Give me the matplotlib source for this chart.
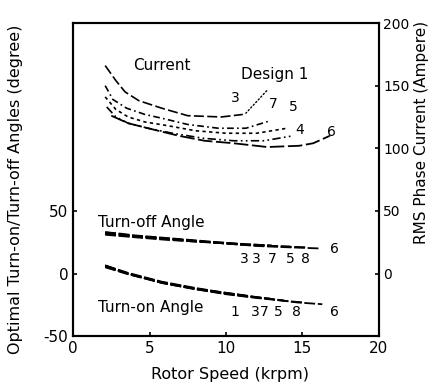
import numpy as np
import matplotlib.pyplot as plt

plt.rcParams['axes.unicode_minus'] = False

# Rotor speed (krpm) and RMS phase current (A) for each design
cur_x_3 = [2.1, 2.8, 3.4, 4.3, 5.8, 7.5, 9.7, 11.1]
cur_y_3 = [166, 154, 145, 138, 132, 126, 125, 127]
cur_x_7 = [2.1, 2.6, 3.5, 4.7, 5.8, 7.5, 9.5, 11.3, 12.9]
cur_y_7 = [150, 139, 132, 127, 124, 119, 116, 116, 122]
cur_x_5 = [2.1, 2.8, 3.6, 4.7, 6.2, 8.0, 10.0, 12.0, 14.0]
cur_y_5 = [141, 131, 125, 121, 118, 114, 112, 112, 116]
cur_x_4 = [2.2, 2.8, 3.6, 4.9, 6.5, 8.5, 10.5, 12.5, 14.4]
cur_y_4 = [133, 125, 120, 116, 112, 108, 106, 106, 110]
cur_x_6 = [2.5, 3.6, 4.9, 6.9, 8.6, 10.5, 12.7, 14.8, 15.7, 16.8]
cur_y_6 = [126, 120, 116, 110, 106, 104, 101, 102, 104, 110]

# Turn-off angles (deg)
off_x_1 = [2.1, 3, 4, 5, 6, 7, 8, 9, 10, 11.2]
off_y_1 = [33, 32, 30.5, 29.5, 28.5, 27.5, 26.5, 25.5, 24.5, 23.5]
off_x_3 = [2.1, 3, 4, 5, 6, 7, 8, 9, 10, 11, 12]
off_y_3 = [32, 31, 30, 29, 28, 27, 26, 25, 24, 23, 22.5]
off_x_7 = [2.1, 3, 4, 5, 6, 7, 8, 9, 10, 11, 12, 13]
off_y_7 = [32.5, 31.5, 30, 29, 28, 27, 26, 25, 24.5, 23.5, 23, 22.5]
off_x_5 = [2.1, 3, 4, 5, 6, 7, 8, 9, 10, 11, 12, 13, 14.2]
off_y_5 = [31.5, 30.5, 29.5, 28.5, 27.5, 26.5, 25.5, 25, 24, 23.5, 23, 22, 21.5]
off_x_8 = [2.1, 4, 6, 8, 10, 12, 13, 14, 15.2]
off_y_8 = [31, 29, 27, 25.5, 24, 22.5, 22, 21.5, 21]
off_x_6 = [2.1, 4, 6, 8, 10, 12, 14, 16.2]
off_y_6 = [33, 30, 28, 26, 24, 22, 21, 20]

# Turn-on angles (deg)
on_x_1 = [2.1, 2.8, 3.6, 4.5, 5.8, 7, 8, 9.5, 11.2]
on_y_1 = [6.4, 3, 0, -3, -7, -10, -12, -15, -17.5]
on_x_3 = [2.1, 3.6, 5.8, 8, 10, 11.5, 12.3]
on_y_3 = [6, 0, -7.5, -12.5, -16, -18.5, -19.5]
on_x_7 = [2.1, 3.6, 5.8, 8, 10, 12, 12.9]
on_y_7 = [5.5, -0.5, -7, -12, -16, -19, -20]
on_x_5 = [2.1, 3.6, 5.8, 8, 10, 12, 13.8]
on_y_5 = [6.5, 0.5, -6.5, -11.5, -15.5, -19, -21.5]
on_x_8 = [2.1, 3.6, 5.8, 8, 10, 12, 14, 15.0]
on_y_8 = [5, -0.5, -7.5, -12.5, -16.5, -19.5, -22, -23]
on_x_6 = [2.1, 3.6, 5.8, 8, 11, 12.7, 14.6, 16.3]
on_y_6 = [6.4, 0, -7, -12, -17, -20, -23, -24.5]

fig = plt.figure(figsize=(4.35, 3.9), dpi=100)
ax = fig.add_axes([0.168, 0.138, 0.703, 0.803])
ax2 = ax.twinx()

# current curves on the right-hand scale
ax2.plot(cur_x_3, cur_y_3, color='black', lw=1.2, ls=(0, (6, 2)))
ax2.plot(cur_x_7, cur_y_7, color='black', lw=1.2, ls=(0, (4, 2, 1, 2)))
ax2.plot(cur_x_5, cur_y_5, color='black', lw=1.2, ls=(0, (2, 2)))
ax2.plot(cur_x_4, cur_y_4, color='black', lw=1.2, ls=(0, (5, 2, 1, 2, 1, 2)))
ax2.plot(cur_x_6, cur_y_6, color='black', lw=1.3, ls=(0, (8, 2)))

for xs, ys in [(off_x_1, off_y_1), (off_x_3, off_y_3), (off_x_7, off_y_7),
               (off_x_5, off_y_5), (off_x_8, off_y_8), (off_x_6, off_y_6),
               (on_x_1, on_y_1), (on_x_3, on_y_3), (on_x_7, on_y_7),
               (on_x_5, on_y_5), (on_x_8, on_y_8), (on_x_6, on_y_6)]:
    ax.plot(xs, ys, color='black', lw=1.3, ls=(0, (6, 1.5)))

# curve tags
fs = 10
ax2.text(10.6, 137, '3', fontsize=fs, ha='center')
ax2.text(13.1, 132, '7', fontsize=fs, ha='center')
ax2.text(14.4, 130, '5', fontsize=fs, ha='center')
ax2.text(14.8, 111, '4', fontsize=fs, ha='center')
ax2.text(16.9, 110, '6', fontsize=fs, ha='center')
ax2.text(3.9, 166, 'Current', fontsize=11, va='center')
ax2.annotate('Design 1', xy=(11.3, 128), xytext=(11.0, 159), fontsize=11, va='center',
             arrowprops=dict(arrowstyle='-', ls=':', color='black', lw=1,
                             shrinkA=6, shrinkB=0, relpos=(0.5, 0)))

ax.text(1.6, 41, 'Turn-off Angle', fontsize=11, va='center')
for lx, lt in zip([11.2, 12.0, 13.0, 14.2, 15.2], ['3', '3', '7', '5', '8']):
    ax.text(lx, 12, lt, fontsize=fs, ha='center', va='center')
ax.text(16.8, 19.5, '6', fontsize=fs, ha='left', va='center')

ax.text(1.6, -27.5, 'Turn-on Angle', fontsize=11, va='center')
for lx, lt in zip([10.6, 11.9, 12.5, 13.4, 14.6], ['1', '3', '7', '5', '8']):
    ax.text(lx, -31, lt, fontsize=fs, ha='center', va='center')
ax.text(16.8, -31, '6', fontsize=fs, ha='left', va='center')

ax.set_xlim(0, 20)
ax.set_ylim(-50, 200)
ax2.set_ylim(-50, 200)
ax.set_xticks([0, 5, 10, 15, 20])
ax.set_yticks([-50, 0, 50])
ax2.set_yticks([0, 50, 100, 150, 200])
ax.tick_params(direction='in', labelsize=11, length=3, width=1.2)
ax2.tick_params(direction='in', labelsize=10, length=3, width=1.2, pad=3)
for s in ax.spines.values():
    s.set_linewidth(1.5)
for s in ax2.spines.values():
    s.set_linewidth(1.5)

ax.set_xlabel('Rotor Speed (krpm)', fontsize=11.5)
ax.xaxis.set_label_coords(0.513, -0.1)
ax.set_ylabel('Optimal Turn-on/Turn-off Angles (degree)', fontsize=11.5)
ax.yaxis.set_label_coords(-0.165, 0.47)
ax2.set_ylabel('RMS Phase Current (Ampere)', fontsize=11, rotation=90)
ax2.yaxis.set_label_coords(1.115, 0.65)

fig.savefig('out.png', dpi=100)
